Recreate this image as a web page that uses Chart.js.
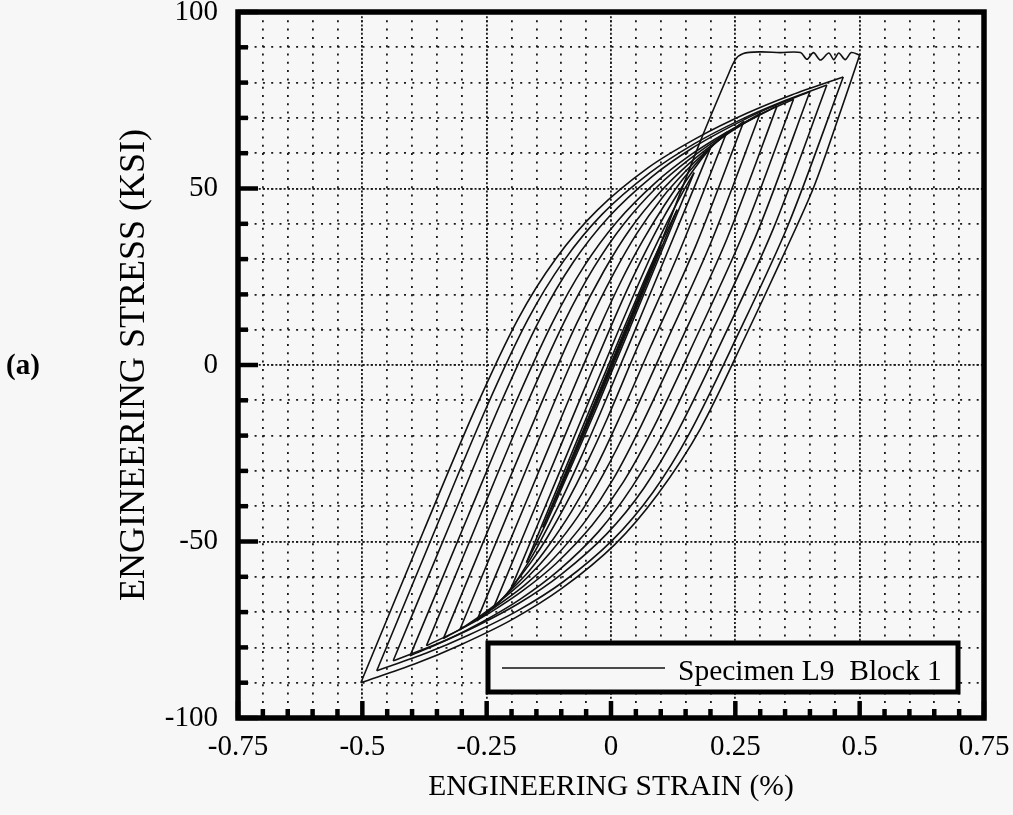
<!DOCTYPE html>
<html><head><meta charset="utf-8">
<script src="https://cdn.jsdelivr.net/npm/chart.js@4.4.1/dist/chart.umd.min.js"></script>
<style>html,body{margin:0;padding:0;background:#f7f7f7;}canvas{display:block;}</style>
</head><body>
<canvas id="c" width="1013" height="815"></canvas>
<script>
// ---- tick labels ----
const xTickLabels = ['-0.75', '-0.5', '-0.25', '0', '0.25', '0.5', '0.75'];
const yTickLabels = ['-100', '-50', '0', '50', '100'];
const legendLabel = 'Specimen L9  Block 1';
const panelLabel = '(a)';
const xTitle = 'ENGINEERING STRAIN (%)';
const yTitle = 'ENGINEERING STRESS (KSI)';

// ---- data: [strain %, stress ksi] per branch ----
const firstLoading = [[0,0],[0.1,34.5],[0.18,63.5],[0.235,82],[0.25,86.5],[0.265,88.2],[0.3,88.7],[0.34,88.5],[0.381,88.5],[0.394,86.6],[0.407,88.5],[0.421,86.4],[0.438,88.4],[0.448,86.5],[0.458,88.4],[0.471,86.5],[0.483,88.5],[0.5,87.8]];
const d1 = [[0.5,87.8],[0.462,72],[0.408,50.5],[0.343,30],[0.27,8],[0.18,-18],[0.094,-36.6],[0.008,-50.8],[-0.099,-63.3],[-0.2,-72.2],[-0.303,-79.3],[-0.395,-84.7],[-0.503,-90]];
const a1 = [[-0.503,-90],[-0.377,-47.1],[-0.274,-12.8],[-0.187,13],[-0.111,30.1],[-0.028,43.8],[0.075,55.9],[0.174,64.4],[0.273,71.3],[0.363,76.5],[0.467,81.6]];
const d2 = [[0.467,81.6],[0.356,39.6],[0.246,5.9],[0.158,-19.3],[0.084,-36.1],[0.003,-49.6],[-0.096,-61.4],[-0.19,-69.8],[-0.286,-76.5],[-0.371,-81.6],[-0.471,-86.6]];
const a2 = [[-0.471,-86.6],[-0.349,-45.1],[-0.25,-11.9],[-0.167,12.9],[-0.095,29.5],[-0.017,42.8],[0.078,54.4],[0.168,62.7],[0.258,69.3],[0.339,74.3],[0.434,79.3]];
const d3 = [[0.434,79.3],[0.326,38.5],[0.22,5.9],[0.135,-18.6],[0.066,-34.9],[-0.009,-47.9],[-0.1,-59.3],[-0.185,-67.5],[-0.271,-74],[-0.348,-78.9],[-0.438,-83.8]];
const a3 = [[-0.438,-83.8],[-0.319,-43.5],[-0.223,-11.2],[-0.143,13],[-0.076,29.1],[-0.004,42],[0.082,53.3],[0.163,61.4],[0.244,67.8],[0.316,72.7],[0.4,77.5]];
const d4 = [[0.4,77.5],[0.294,37.5],[0.19,5.5],[0.109,-18.4],[0.043,-34.4],[-0.025,-47.2],[-0.107,-58.4],[-0.183,-66.4],[-0.259,-72.8],[-0.326,-77.6],[-0.404,-82.4]];
const a4 = [[-0.404,-82.4],[-0.288,-43],[-0.194,-11.4],[-0.117,12.2],[-0.054,28],[0.012,40.6],[0.089,51.6],[0.16,59.5],[0.231,65.8],[0.294,70.6],[0.367,75.3]];
const d5 = [[0.367,75.3],[0.264,36.6],[0.164,5.6],[0.086,-17.6],[0.025,-33.1],[-0.038,-45.4],[-0.111,-56.3],[-0.178,-64],[-0.244,-70.2],[-0.303,-74.9],[-0.371,-79.5]];
const a5 = [[-0.371,-79.5],[-0.259,-41.3],[-0.168,-10.7],[-0.094,12.2],[-0.035,27.5],[0.025,39.8],[0.093,50.5],[0.156,58.1],[0.217,64.2],[0.272,68.8],[0.334,73.4]];
const d6 = [[0.334,73.4],[0.233,35.7],[0.136,5.5],[0.061,-17.1],[0.005,-32.2],[-0.052,-44.3],[-0.116,-54.9],[-0.174,-62.4],[-0.231,-68.4],[-0.28,-73],[-0.337,-77.5]];
const a6 = [[-0.337,-77.5],[-0.228,-40.3],[-0.139,-10.5],[-0.069,11.8],[-0.014,26.7],[0.039,38.6],[0.099,49],[0.152,56.4],[0.204,62.4],[0.249,66.8],[0.3,71.3]];
const d7 = [[0.3,71.3],[0.201,34.7],[0.108,5.5],[0.037,-16.5],[-0.016,-31.1],[-0.066,-42.8],[-0.122,-53.1],[-0.17,-60.4],[-0.217,-66.2],[-0.258,-70.6],[-0.304,-75]];
const a7 = [[-0.304,-75],[-0.198,-39],[-0.113,-10.2],[-0.046,11.4],[0.005,25.8],[0.052,37.3],[0.103,47.4],[0.148,54.6],[0.19,60.4],[0.226,64.7],[0.267,69]];
const d8 = [[0.267,69],[0.17,33.6],[0.08,5.3],[0.014,-15.9],[-0.034,-30.1],[-0.079,-41.4],[-0.126,-51.3],[-0.165,-58.4],[-0.203,-64],[-0.234,-68.3],[-0.27,-72.5]];
const a8 = [[-0.27,-72.5],[-0.168,-37.9],[-0.086,-10.2],[-0.023,10.6],[0.023,24.5],[0.065,35.5],[0.107,45.2],[0.142,52.2],[0.175,57.7],[0.202,61.8],[0.233,66]];
const d9 = [[0.233,66],[0.138,32.3],[0.054,5.3],[-0.007,-15],[-0.051,-28.5],[-0.09,-39.3],[-0.128,-48.8],[-0.159,-55.5],[-0.188,-60.9],[-0.211,-65],[-0.237,-69]];
const a9 = [[-0.237,-69],[-0.141,-36.4],[-0.064,-10.3],[-0.005,9.3],[0.036,22.4],[0.072,32.8],[0.106,41.9],[0.134,48.5],[0.158,53.7],[0.178,57.6],[0.2,61.5]];
const d10 = [[0.2,61.5],[0.108,30.1],[0.034,5],[-0.022,-13.8],[-0.061,-26.4],[-0.102,-38.9],[-0.148,-51.5],[-0.174,-57.7],[-0.203,-64]];
const a10 = [[-0.203,-64],[-0.098,-28.5],[0.007,7.1],[0.08,30.8],[0.121,42.7],[0.143,48.6],[0.167,54.5]];
const d11 = [[0.167,54.5],[0.07,21.4],[-0.028,-11.8],[-0.096,-33.9],[-0.131,-45],[-0.17,-56]];
const a11 = [[-0.17,-56],[-0.023,-6],[0.067,24],[0.099,34],[0.133,44]];
const d12 = [[0.133,44],[0.001,-1],[-0.094,-32.5],[-0.137,-46]];
const a12 = [[-0.137,-46],[-0.02,-6.3],[0.063,21.6],[0.1,33.5]];
const d13 = [[0.1,33.5],[-0.001,-0.8],[-0.103,-35]];
const a13 = [[-0.103,-35],[-0.017,-6.3],[0.067,22.5]];
const d14 = [[0.067,22.5],[-0.001,-0.7],[-0.07,-24]];
const a14 = [[-0.07,-24],[0.033,11]];
const d15 = [[0.033,11],[-0.037,-12.5]];
const a15 = [[-0.037,-12.5],[0,0]];

const branches = [firstLoading, d1, a1, d2, a2, d3, a3, d4, a4, d5, a5, d6, a6, d7, a7, d8, a8, d9, a9, d10, a10, d11, a11, d12, a12, d13, a13, d14, a14, d15, a15];

const FONT = '"Liberation Serif", "Times New Roman", Times, serif';
const BG = '#f7f7f7';

const datasets = branches.map((b, i) => ({
  label: i === 0 ? legendLabel : '',
  data: b.map(p => ({x: p[0], y: p[1]})),
  showLine: true, fill: false,
  borderColor: '#111', borderWidth: 1.6,
  pointRadius: 0, pointHoverRadius: 0,
  tension: 0.3
}));

function xLabel(v) {
  const k = Math.round(v * 100);
  if (k % 25 !== 0) return '';
  return xTickLabels[(k + 75) / 25];
}
function yLabel(v) {
  const k = Math.round(v);
  if (k % 50 !== 0) return '';
  return yTickLabels[(k + 100) / 50];
}
function noPadH(s, h) { s.height = h; s.paddingLeft = 0; s.paddingRight = 0; s.paddingTop = 0; s.paddingBottom = 0; }
function noPadW(s, w) { s.width = w; s.paddingLeft = 0; s.paddingRight = 0; s.paddingTop = 0; s.paddingBottom = 0; }

const decor = {
  id: 'decor',
  beforeDraw(chart) {
    const c = chart.ctx;
    c.save(); c.fillStyle = BG; c.fillRect(0, 0, chart.width, chart.height); c.restore();
  },
  afterDraw(chart) {
    const c = chart.ctx, a = chart.chartArea;
    const xs = chart.scales.x, ys = chart.scales.y;
    c.save();
    c.strokeStyle = '#000'; c.fillStyle = '#000';
    xs.ticks.forEach(t => {
      const px = xs.getPixelForValue(t.value);
      const major = Math.round(t.value * 100) % 25 === 0;
      c.lineWidth = 4.5;
      c.beginPath(); c.moveTo(px, a.bottom); c.lineTo(px, a.bottom - (major ? 17 : 9)); c.stroke();
    });
    ys.ticks.forEach(t => {
      const py = ys.getPixelForValue(t.value);
      const major = Math.round(t.value) % 50 === 0;
      c.lineWidth = 4.5;
      c.beginPath(); c.moveTo(a.left, py); c.lineTo(a.left + (major ? 20 : 10), py); c.stroke();
    });
    c.lineWidth = 5.5;
    c.strokeRect(a.left, a.top, a.right - a.left, a.bottom - a.top);
    // legend box
    const lx = a.left + 250, ly = a.top + 631, lw = 470, lh = 49;
    c.fillStyle = BG; c.fillRect(lx, ly, lw, lh);
    c.lineWidth = 5; c.strokeStyle = '#000'; c.strokeRect(lx, ly, lw, lh);
    c.lineWidth = 1.6; c.strokeStyle = '#111';
    c.beginPath(); c.moveTo(lx + 14, ly + 25); c.lineTo(lx + 177, ly + 25); c.stroke();
    c.fillStyle = '#000'; c.font = '29.5px ' + FONT; c.textBaseline = 'alphabetic'; c.textAlign = 'left';
    c.fillText(legendLabel, lx + 190, ly + 37);
    c.font = 'bold 29px ' + FONT; c.textBaseline = 'middle';
    c.fillText(panelLabel, 6, 367);
    c.restore();
  }
};

const gridCommon = {color: '#1a1a1a', lineWidth: 1.8, drawTicks: false};

new Chart(document.getElementById('c'), {
  type: 'scatter',
  data: {datasets},
  options: {
    responsive: false, animation: false, devicePixelRatio: 1,
    layout: {padding: {left: 0, right: 29, top: 12, bottom: 0}},
    plugins: {legend: {display: false}, tooltip: {enabled: false}},
    events: [],
    scales: {
      x: {
        type: 'linear', position: 'bottom', min: -0.75, max: 0.75,
        afterFit: s => noPadH(s, 97),
        ticks: {stepSize: 0.05, maxTicksLimit: 100, autoSkip: false, maxRotation: 0, minRotation: 0,
          padding: 12, color: '#000', font: {family: FONT, size: 29}, callback: xLabel},
        grid: gridCommon,
        border: {display: false, dash: [2, 6.3]},
        title: {display: true, text: xTitle, color: '#000', font: {family: FONT, size: 29.5}, padding: {top: 0, bottom: 10}}
      },
      xMajor: {
        type: 'linear', position: 'bottom', min: -0.75, max: 0.75,
        afterFit: s => noPadH(s, 0),
        ticks: {display: false, stepSize: 0.25},
        grid: gridCommon,
        border: {display: false, dash: [2, 2.15]}
      },
      y: {
        type: 'linear', position: 'left', min: -100, max: 100,
        afterFit: s => noPadW(s, 238),
        ticks: {stepSize: 10, maxTicksLimit: 100, autoSkip: false, padding: 20, color: '#000',
          font: {family: FONT, size: 29}, callback: yLabel},
        grid: gridCommon,
        border: {display: false, dash: [2, 6.3]},
        title: {display: true, text: yTitle, color: '#000', font: {family: FONT, size: 36}, padding: {top: 113, bottom: 0}}
      },
      yMajor: {
        type: 'linear', position: 'left', min: -100, max: 100,
        afterFit: s => noPadW(s, 0),
        ticks: {display: false, stepSize: 50},
        grid: gridCommon,
        border: {display: false, dash: [2, 2.15]}
      }
    }
  },
  plugins: [decor]
});
</script>
</body></html>
